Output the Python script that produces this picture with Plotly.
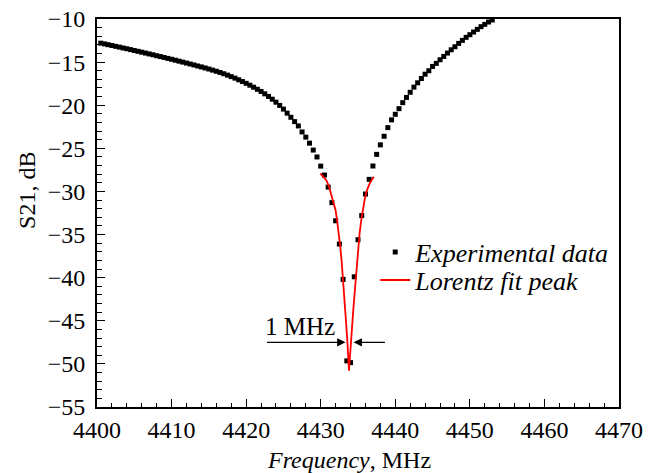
import plotly.graph_objects as go

# Experimental data (frequency in MHz, S21 in dB)
freq_exp = [
    4400.5, 4401.0, 4401.5, 4402.0, 4402.5, 4403.0, 4403.5, 4404.0, 4404.5, 4405.0,
    4405.5, 4406.0, 4406.5, 4407.0, 4407.5, 4408.0, 4408.5, 4409.0, 4409.5, 4410.0,
    4410.5, 4411.0, 4411.5, 4412.0, 4412.5, 4413.0, 4413.5, 4414.0, 4414.5, 4415.0,
    4415.5, 4416.0, 4416.5, 4417.0, 4417.5, 4418.0, 4418.5, 4419.0, 4419.5, 4420.0,
    4420.5, 4421.0, 4421.5, 4422.0, 4422.5, 4423.0, 4423.5, 4424.0, 4424.5, 4425.0,
    4425.5, 4426.0, 4426.5, 4427.0, 4427.5, 4428.0, 4428.5, 4429.0, 4429.5, 4430.0,
    4430.5, 4431.0, 4431.5, 4432.0, 4432.5, 4433.0, 4433.5, 4434.0, 4434.5, 4435.0,
    4435.5, 4436.0, 4436.5, 4437.0, 4437.5, 4438.0, 4438.5, 4439.0, 4439.5, 4440.0,
    4440.5, 4441.0, 4441.5, 4442.0, 4442.5, 4443.0, 4443.5, 4444.0, 4444.5, 4445.0,
    4445.5, 4446.0, 4446.5, 4447.0, 4447.5, 4448.0, 4448.5, 4449.0, 4449.5, 4450.0,
    4450.5, 4451.0, 4451.5, 4452.0, 4452.5, 4453.0,
]
s21_exp = [
    -12.80, -12.89, -12.98, -13.07, -13.17, -13.26, -13.36, -13.45, -13.55, -13.65,
    -13.75, -13.85, -13.95, -14.05, -14.15, -14.26, -14.36, -14.46, -14.57, -14.67,
    -14.78, -14.89, -15.00, -15.11, -15.22, -15.33, -15.45, -15.56, -15.68, -15.80,
    -15.93, -16.06, -16.20, -16.35, -16.51, -16.68, -16.86, -17.05, -17.25, -17.46,
    -17.68, -17.91, -18.15, -18.40, -18.68, -18.98, -19.30, -19.65, -20.02, -20.45,
    -20.92, -21.40, -21.90, -22.40, -23.10, -23.70, -24.40, -25.20, -26.00, -27.06,
    -28.10, -29.50, -31.30, -33.40, -36.10, -40.20, -49.65, -49.85, -39.90, -35.60,
    -32.80, -30.30, -28.60, -27.05, -25.70, -24.60, -23.60, -22.60, -21.70, -21.05,
    -20.40, -19.70, -19.10, -18.50, -17.90, -17.40, -16.90, -16.40, -16.00, -15.50,
    -15.15, -14.73, -14.34, -13.95, -13.57, -13.22, -12.83, -12.48, -12.13, -11.82,
    -11.51, -11.20, -10.89, -10.62, -10.35, -10.12,
]

# Lorentz fit peak
freq_fit = [
    4429.95, 4430.40, 4430.75, 4431.10, 4431.42, 4431.70, 4432.00, 4432.20, 4432.44,
    4432.62, 4432.80, 4432.96, 4433.11, 4433.27, 4433.43, 4433.55, 4433.64, 4433.72,
    4433.79, 4433.87, 4433.96, 4434.10, 4434.23, 4434.38, 4434.54, 4434.70, 4434.85,
    4435.03, 4435.21, 4435.42, 4435.65, 4435.90, 4436.18, 4436.60, 4437.12,
]
s21_fit = [
    -27.9, -28.3, -28.7, -29.4, -30.3, -31.2, -32.2, -33.4, -34.9,
    -36.4, -38.0, -39.7, -41.5, -43.4, -45.4, -47.0, -48.5, -49.8,
    -50.8, -49.8, -48.5, -47.0, -45.4, -43.6, -41.9, -40.1, -38.4,
    -36.6, -34.9, -33.4, -32.0, -30.9, -29.9, -29.0, -28.3,
]

# Width annotation (arrow tips and tails, MHz / dB)
width_label = "1 MHz"
width_left = [4422.6, 4433.33]
width_right = [4438.8, 4434.4]
width_level = -47.5
label_pos = [4427.2, -45.7]

FONT = "Liberation Serif"

fig = go.Figure()
fig.add_trace(go.Scatter(
    x=freq_exp, y=s21_exp, mode="markers", name="<i>Experimental data</i>",
    marker=dict(symbol="square", size=5, color="black"), legend="legend",
))
fig.add_trace(go.Scatter(
    x=freq_fit, y=s21_fit, mode="lines", name="<i>Lorentz fit peak</i>",
    line=dict(color="#ff0000", width=1.8), legend="legend2",
))

for tail, tip in [(width_left[0], width_left[1]), (width_right[0], width_right[1])]:
    fig.add_annotation(
        x=tip, y=width_level, ax=tail, ay=width_level,
        xref="x", yref="y", axref="x", ayref="y",
        text="", showarrow=True, arrowhead=2, arrowsize=1.2, arrowwidth=1.4,
        arrowcolor="black",
    )
fig.add_annotation(
    x=label_pos[0], y=label_pos[1], xref="x", yref="y", text=width_label,
    showarrow=False, font=dict(family=FONT, size=25, color="black"),
)
# axis titles as annotations for exact placement
fig.add_annotation(
    x=0.483, y=-0.137, xref="paper", yref="paper", yanchor="middle",
    text="<i>Frequency</i>, MHz", showarrow=False,
    font=dict(family=FONT, size=24, color="black"),
)
fig.add_annotation(
    x=-0.134, y=0.557, xref="paper", yref="paper", xanchor="center", yanchor="middle",
    text="S21, dB", textangle=-90, showarrow=False,
    font=dict(family=FONT, size=24, color="black"),
)

leg_common = dict(xanchor="left", yanchor="middle", bgcolor="rgba(0,0,0,0)",
                  font=dict(family=FONT, size=26), itemwidth=30)
fig.update_layout(
    width=655, height=473,
    margin=dict(l=97, r=36, t=19, b=66, autoexpand=False),
    paper_bgcolor="white", plot_bgcolor="white",
    font=dict(family=FONT, size=24, color="black"),
    showlegend=True,
    legend=dict(x=0.533, y=0.3995, **leg_common),
    legend2=dict(x=0.533, y=0.327, **leg_common),
)
fig.update_xaxes(
    range=[4400, 4470], tick0=4400, dtick=10, automargin=False,
    ticks="inside", ticklen=8, tickwidth=1.3, tickcolor="black",
    minor=dict(dtick=2, ticks="inside", ticklen=4, tickwidth=1, tickcolor="black"),
    showline=True, linecolor="black", linewidth=2, mirror=True,
    showgrid=False, zeroline=False, ticklabeloverflow="allow",
    tickfont=dict(family=FONT, size=24),
)
fig.update_yaxes(
    range=[-55, -10], tick0=-55, dtick=5, automargin=False,
    ticks="inside", ticklen=8, tickwidth=1.3, tickcolor="black",
    minor=dict(dtick=1, ticks="inside", ticklen=5, tickwidth=1, tickcolor="black"),
    showline=True, linecolor="black", linewidth=2, mirror=True,
    showgrid=False, zeroline=False, ticklabeloverflow="allow",
    ticklabelstandoff=5,
    tickfont=dict(family=FONT, size=24),
)

fig.write_html(
    "out.html",
    config={"displayModeBar": False},
    post_script="document.body.style.margin='0';",
)
